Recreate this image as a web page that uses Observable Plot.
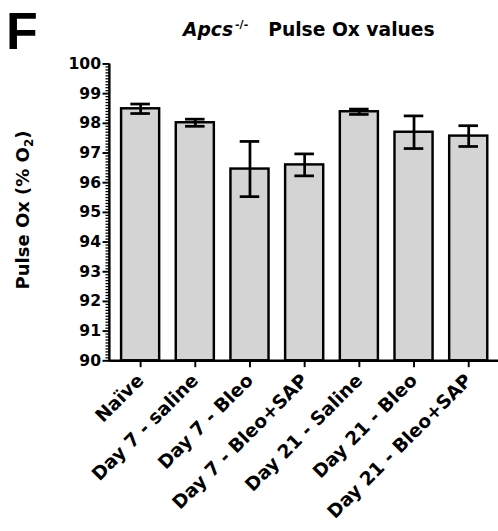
<!DOCTYPE html>
<html>
<head>
<meta charset="utf-8">
<script src="https://cdn.jsdelivr.net/npm/d3@7"></script>
<script src="https://cdn.jsdelivr.net/npm/@observablehq/plot@0.6"></script>
<style>
  html, body { margin: 0; padding: 0; background: #fff; overflow: hidden; }
  #wrap { position: relative; width: 498px; height: 531px; overflow: hidden; }
  #chart { position: absolute; left: 0; top: 0; }
  .panel { position: absolute; left: 6px; top: 5px; font: bold 52px/1 "Liberation Sans", Arial, sans-serif; color: #000; }
  .title { position: absolute; left: 183px; top: 18px; font: bold 18.7px/1.2 "DejaVu Sans", sans-serif; color: #000; white-space: nowrap; }
  .title sup { font-size: 11px; font-style: normal; vertical-align: 8px; margin-left: 2px; margin-right: 20px; }
  .ylab { position: absolute; left: 24px; top: 210px; transform: translate(-50%, -50%) rotate(-90deg); font: bold 18px "DejaVu Sans", sans-serif; color: #000; white-space: nowrap; }
  .ylab sub { font-size: 12px; vertical-align: -4px; }
</style>
</head>
<body>
<div id="wrap">
  <div id="chart"></div>
  <div class="panel">F</div>
  <div class="title"><i>Apcs</i><sup>-/-</sup>Pulse Ox values</div>
  <div class="ylab">Pulse Ox (% O<sub>2</sub>)</div>
</div>
<script>
const groups = ["Naïve", "Day 7 - saline", "Day 7 - Bleo", "Day 7 - Bleo+SAP", "Day 21 - Saline", "Day 21 - Bleo", "Day 21 - Bleo+SAP"];
const means = [98.49, 98.02, 96.46, 96.60, 98.39, 97.70, 97.57];
const errors = [0.16, 0.12, 0.93, 0.37, 0.09, 0.55, 0.35];
const yTicks = [90, 91, 92, 93, 94, 95, 96, 97, 98, 99, 100];
const yMinorTicks = d3.range(900, 1001).filter(d => d % 10 !== 0).map(d => d / 10);

const data = groups.map((g, i) => ({group: g, mean: means[i], lo: means[i] - errors[i], hi: means[i] + errors[i]}));
const base = yTicks[0];

const chart = Plot.plot({
  width: 510,
  height: 531,
  marginTop: 65,
  marginBottom: 162,
  marginLeft: 112,
  marginRight: 0,
  style: {fontFamily: "DejaVu Sans", fontWeight: "bold", fontSize: "16px", color: "#000", background: "transparent", overflow: "visible"},
  x: {domain: groups, paddingInner: 0.31, paddingOuter: 0.158, align: 0.5, label: null},
  y: {domain: [yTicks[0], yTicks[yTicks.length - 1]], label: null},
  marks: [
    Plot.barY(data, {x: "group", y1: base, y2: "mean", fill: "#d4d4d4", stroke: "#000", strokeWidth: 2.5}),
    Plot.ruleX(data, {x: "group", y1: "lo", y2: "hi", stroke: "#000", strokeWidth: 2.8}),
    Plot.tickY(data, {x: "group", y: "hi", stroke: "#000", strokeWidth: 2.8, inset: 9.5}),
    Plot.tickY(data, {x: "group", y: "lo", stroke: "#000", strokeWidth: 2.8, inset: 9.5}),
    Plot.axisY(yMinorTicks, {tickSize: 4, strokeWidth: 1.3, text: null, label: null}),
    Plot.axisY(yTicks, {tickSize: 7, tickPadding: 2, strokeWidth: 2, fontSize: 16, label: null}),
    Plot.axisX({tickRotate: -45, tickSize: 7, tickPadding: 10, strokeWidth: 2, fontSize: 19, label: null}),
    Plot.ruleY([base], {strokeWidth: 2.5})
  ]
});
// left axis line drawn from the library's own scales
const xs = chart.scale("x"), ys = chart.scale("y");
d3.select(chart).append("line")
  .attr("x1", xs.range[0]).attr("x2", xs.range[0])
  .attr("y1", ys.range[0] + 1.25).attr("y2", ys.range[1])
  .attr("stroke", "#000").attr("stroke-width", 2.5);
document.getElementById("chart").append(chart);
</script>
</body>
</html>
